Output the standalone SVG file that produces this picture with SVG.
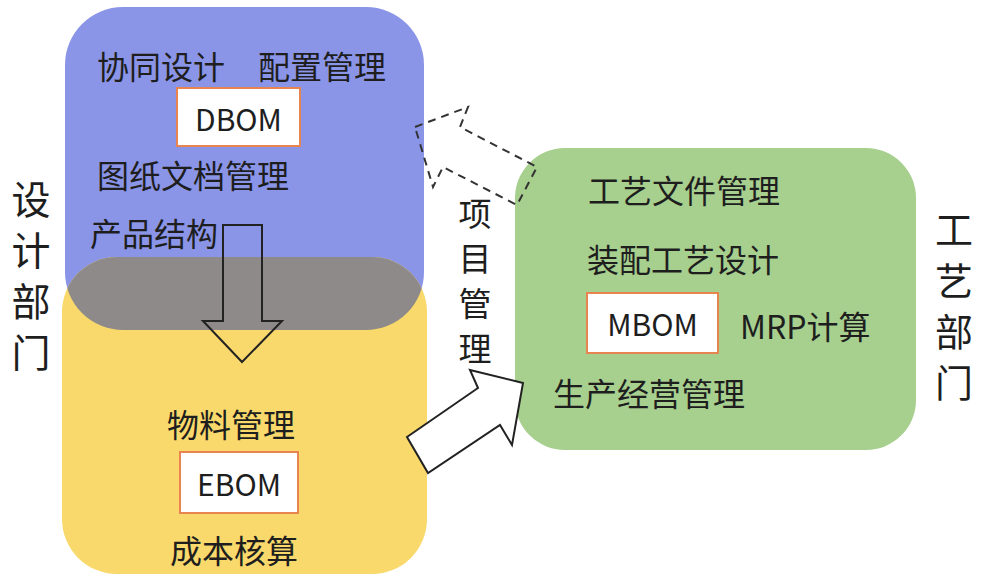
<svg xmlns="http://www.w3.org/2000/svg" width="989" height="581" viewBox="0 0 989 581">
<defs>
<style>
text{font-family:"Noto Sans CJK SC","Noto Sans",sans-serif;fill:#1e1e1e;dominant-baseline:central}
.t{font-size:32px}
.v{font-size:39px;text-anchor:middle}
.v2{font-size:38px;text-anchor:middle}
.pm{font-size:33px;text-anchor:middle}
.bom{fill:#ffffff;stroke:#e8844f;stroke-width:2}
.bt{font-size:30px;text-anchor:middle}
.arr{fill:none;stroke:#222;stroke-width:2;stroke-linejoin:miter}
</style>
<clipPath id="clipBlue"><rect x="65" y="7" width="359" height="323" rx="58"/></clipPath>
</defs>
<rect width="989" height="581" fill="#ffffff"/>

<g id="design-dept">
<rect x="65" y="7" width="359" height="323" rx="58" fill="#8b95e8"/>
<rect x="62" y="257" width="365" height="317" rx="55" fill="#f9d96b"/>
<rect x="62" y="257" width="365" height="317" rx="55" fill="#8e8a89" clip-path="url(#clipBlue)"/>
</g>

<g id="design-texts">
<text class="t" x="97" y="65">协同设计</text>
<text class="t" x="258" y="65">配置管理</text>
<text class="t" x="97" y="174">图纸文档管理</text>
<text class="t" x="90" y="232">产品结构</text>
<text class="t" x="167" y="423">物料管理</text>
<text class="t" x="170" y="549">成本核算</text>
</g>

<g id="dbom">
<rect class="bom" x="177" y="88" width="123" height="58"/>
<text class="bt" x="238.5" y="118">DBOM</text>
</g>

<g id="ebom">
<rect class="bom" x="180" y="452" width="118" height="61"/>
<text class="bt" x="239" y="483">EBOM</text>
</g>

<g id="label-design">
<text class="v"><tspan x="31" y="197">设</tspan><tspan x="31" y="248">计</tspan><tspan x="31" y="299">部</tspan><tspan x="31" y="350">门</tspan></text>
</g>

<g id="process-dept">
<rect x="515" y="148" width="401" height="302" rx="50" fill="#a7cf8e"/>
<text class="t" x="588" y="189">工艺文件管理</text>
<text class="t" x="587" y="258">装配工艺设计</text>
<text class="t" x="740" y="325">MRP计算</text>
<text class="t" x="553" y="392">生产经营管理</text>
</g>

<g id="mbom">
<rect class="bom" x="587" y="293" width="131" height="60"/>
<text class="bt" x="652.5" y="323">MBOM</text>
</g>

<g id="label-process">
<text class="v2"><tspan x="954" y="227">工</tspan><tspan x="954" y="278">艺</tspan><tspan x="954" y="329">部</tspan><tspan x="954" y="380">门</tspan></text>
</g>

<g id="label-project">
<text class="pm"><tspan x="475" y="212">项</tspan><tspan x="475" y="257">目</tspan><tspan x="475" y="302">管</tspan><tspan x="475" y="347">理</tspan></text>
</g>

<g id="connectors">
<polygon class="arr" points="223,225 262,225 262,321 282,321 242,362 203,321 223,321"/>
<polygon class="arr" style="fill:#ffffff" points="407,437 478,388 470,370 523,383 512,445 500,425 428,473"/>
<polygon class="arr" style="stroke-dasharray:8,6;stroke:#333" points="415,127 468,107 460,127 537,167 517,205 443,167 433,187"/>
</g>
</svg>
